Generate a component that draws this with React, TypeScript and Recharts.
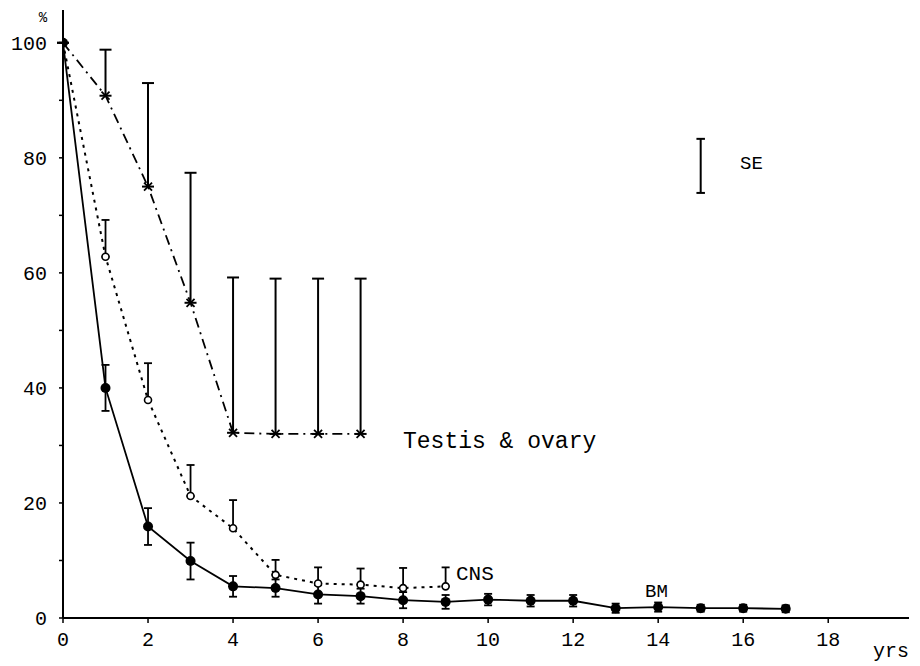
import React from "react";
import { ComposedChart, Line, XAxis, YAxis, ErrorBar, ReferenceLine, Customized } from "recharts";

const FONT = '"Liberation Mono", "DejaVu Sans Mono", monospace';

// BM (solid line, filled circles)
const BM_YEARS = [0, 1, 2, 3, 4, 5, 6, 7, 8, 9, 10, 11, 12, 13, 14, 15, 16, 17];
const BM_PCT = [100, 40, 15.9, 9.9, 5.5, 5.2, 4.1, 3.8, 3.1, 2.8, 3.2, 3.0, 3.0, 1.7, 1.9, 1.7, 1.7, 1.6];
const BM_SE = [0, 4, 3.2, 3.2, 1.8, 1.5, 1.6, 1.3, 1.4, 1.2, 1.0, 1.0, 1.0, 0.8, 0.8, 0.6, 0.6, 0.6];

// CNS (dotted line, open circles), SE drawn upward only
const CNS_YEARS = [0, 1, 2, 3, 4, 5, 6, 7, 8, 9];
const CNS_PCT = [100, 62.8, 37.9, 21.2, 15.6, 7.5, 6.0, 5.8, 5.2, 5.5];
const CNS_SE = [0, 6.4, 6.4, 5.4, 4.9, 2.6, 2.8, 2.8, 3.5, 3.3];

// Testis & ovary (dash-dot line, crosses), SE drawn upward only
const TO_YEARS = [0, 1, 2, 3, 4, 5, 6, 7];
const TO_PCT = [100, 90.8, 75, 54.8, 32.2, 32, 32, 32];
const TO_SE = [0, 8, 18, 22.6, 27, 27, 27, 27];

// key for the SE bar (year, low %, high %)
const SE_KEY_YR = 15;
const SE_KEY_LOW = 73.9;
const SE_KEY_HIGH = 83.3;
const SE_CAP = 0.1;

const X_TICKS = [0, 2, 4, 6, 8, 10, 12, 14, 16, 18];
const Y_TICKS = [0, 10, 20, 30, 40, 50, 60, 70, 80, 90, 100];

const bmData = BM_YEARS.map((yr, i) => ({ yr, v: BM_PCT[i], e: BM_SE[i] }));
const cnsData = CNS_YEARS.map((yr, i) => ({ yr, v: CNS_PCT[i], e: [0, CNS_SE[i]] }));
const toData = TO_YEARS.map((yr, i) => ({ yr, v: TO_PCT[i], e: [0, TO_SE[i]] }));

const BmDot = (p: any) => <circle key={`bm${p.index}`} cx={p.cx} cy={p.cy} r={5} fill="#000" />;

const CnsDot = (p: any) =>
  p.index === 0 ? (
    <g key={`cns${p.index}`} />
  ) : (
    <circle key={`cns${p.index}`} cx={p.cx} cy={p.cy} r={3.5} fill="#fff" stroke="#000" strokeWidth={1.6} />
  );

const CrossDot = (p: any) =>
  p.index === 0 ? (
    <g key={`to${p.index}`} />
  ) : (
    <path
      key={`to${p.index}`}
      d={`M${p.cx - 4},${p.cy - 4}L${p.cx + 4},${p.cy + 4}M${p.cx + 4},${p.cy - 4}L${p.cx - 4},${p.cy + 4}`}
      stroke="#000"
      strokeWidth={1.8}
    />
  );

function Annotations() {
  const t = { fill: "#000", fontFamily: FONT };
  return (
    <g>
      <text x={43} y={22} fontSize={14} textAnchor="middle" {...t}>%</text>
      <text x={403} y={448} fontSize={23} {...t}>Testis &amp; ovary</text>
      <text x={456} y={580} fontSize={21} {...t}>CNS</text>
      <text x={645} y={597} fontSize={19} {...t}>BM</text>
      <text x={740} y={169} fontSize={19} {...t}>SE</text>
      <text x={873} y={657} fontSize={20} {...t}>yrs</text>
    </g>
  );
}

const seStroke = { stroke: "#000", strokeWidth: 2 };

export default function App() {
  return (
    <div style={{ width: 920, height: 666, background: "#fff" }}>
      <style>{`body{margin:0;background:#fff}`}</style>
      <ComposedChart width={920} height={666} margin={{ top: 10, right: 11, left: 0, bottom: 0 }}>
        <XAxis
          type="number"
          dataKey="yr"
          domain={[0, 19.9]}
          ticks={X_TICKS}
          allowDataOverflow
          height={48}
          tickSize={5}
          tickMargin={9}
          axisLine={{ stroke: "#000", strokeWidth: 2 }}
          tickLine={{ stroke: "#000", strokeWidth: 1.5 }}
          tick={{ fill: "#000", fontSize: 20, fontFamily: FONT }}
        />
        <YAxis
          type="number"
          domain={[0, 105.7]}
          ticks={Y_TICKS}
          allowDataOverflow
          width={63}
          tickSize={4}
          tickMargin={12}
          tickFormatter={(v: number) => (v % 20 === 0 ? String(v) : "")}
          axisLine={{ stroke: "#000", strokeWidth: 2 }}
          tickLine={{ stroke: "#000", strokeWidth: 1.5 }}
          tick={{ fill: "#000", fontSize: 20, fontFamily: FONT }}
        />
        <ReferenceLine segment={[{ x: SE_KEY_YR, y: SE_KEY_LOW }, { x: SE_KEY_YR, y: SE_KEY_HIGH }]} {...seStroke} />
        <ReferenceLine
          segment={[{ x: SE_KEY_YR - SE_CAP, y: SE_KEY_LOW }, { x: SE_KEY_YR + SE_CAP, y: SE_KEY_LOW }]}
          {...seStroke}
        />
        <ReferenceLine
          segment={[{ x: SE_KEY_YR - SE_CAP, y: SE_KEY_HIGH }, { x: SE_KEY_YR + SE_CAP, y: SE_KEY_HIGH }]}
          {...seStroke}
        />
        <Line
          data={toData}
          dataKey="v"
          stroke="#000"
          strokeWidth={1.8}
          strokeDasharray="10 5 2 5"
          dot={CrossDot}
          activeDot={false}
          isAnimationActive={false}
        >
          <ErrorBar dataKey="e" direction="y" width={6} stroke="#000" strokeWidth={2} isAnimationActive={false} />
        </Line>
        <Line
          data={cnsData}
          dataKey="v"
          stroke="#000"
          strokeWidth={2}
          strokeDasharray="3 5"
          dot={CnsDot}
          activeDot={false}
          isAnimationActive={false}
        >
          <ErrorBar dataKey="e" direction="y" width={4} stroke="#000" strokeWidth={1.8} isAnimationActive={false} />
        </Line>
        <Line
          data={bmData}
          dataKey="v"
          stroke="#000"
          strokeWidth={1.8}
          dot={BmDot}
          activeDot={false}
          isAnimationActive={false}
        >
          <ErrorBar dataKey="e" direction="y" width={4} stroke="#000" strokeWidth={1.8} isAnimationActive={false} />
        </Line>
        <Customized component={Annotations} />
      </ComposedChart>
    </div>
  );
}
